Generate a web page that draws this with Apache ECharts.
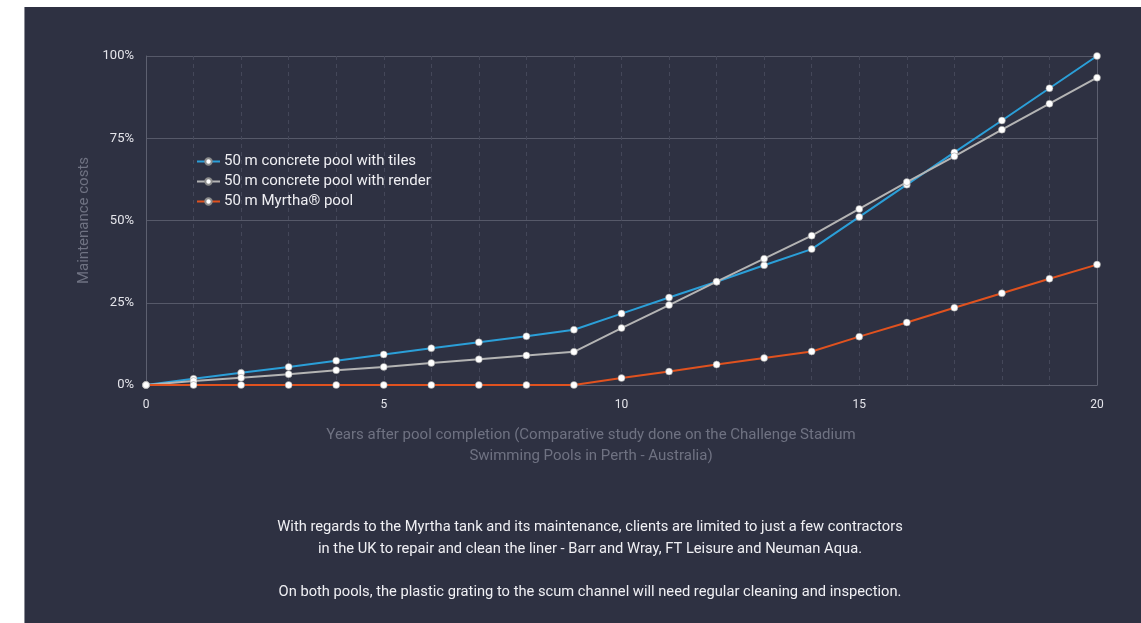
<!DOCTYPE html>
<html>
<head>
<meta charset="utf-8">
<script src="https://cdn.jsdelivr.net/npm/echarts@6/dist/echarts.min.js"></script>
<style>
  html, body { margin: 0; padding: 0; background: #ffffff; }
  #chart {
    position: absolute; left: 24px; top: 7px;
    width: 1117px; height: 616px;
    background: #2e3142;
    border-left: 1px solid #8a8c96;
    box-sizing: border-box;
  }
</style>
</head>
<body>
<div id="chart"></div>
<script>
var years = [0, 1, 2, 3, 4, 5, 6, 7, 8, 9, 10, 11, 12, 13, 14, 15, 16, 17, 18, 19, 20];
var tiles = [0, 1.9, 3.7, 5.5, 7.4, 9.3, 11.2, 13.0, 14.8, 16.8, 21.7, 26.6, 31.4, 36.4, 41.3, 51.1, 60.9, 70.7, 80.4, 90.2, 100];
var render = [0, 1.2, 2.2, 3.3, 4.5, 5.5, 6.7, 7.8, 9.0, 10.1, 17.3, 24.3, 31.4, 38.4, 45.4, 53.5, 61.7, 69.5, 77.6, 85.5, 93.4];
var myrtha = [0, 0, 0, 0, 0, 0, 0, 0, 0, 0, 2.1, 4.1, 6.2, 8.2, 10.2, 14.7, 19.0, 23.5, 27.9, 32.3, 36.6];
var seriesNames = ['50 m concrete pool with tiles', '50 m concrete pool with render', '50 m Myrtha\u00ae pool'];
var seriesColors = ['#2b9fd8', '#b4b4b4', '#e0521f'];
var noteLines = [
    'With regards to the Myrtha tank and its maintenance, clients are limited to just a few contractors',
    'in the UK to repair and clean the liner - Barr and Wray, FT Leisure and Neuman Aqua.',
    'On both pools, the plastic grating to the scum channel will need regular cleaning and inspection.'
];
var noteTops = [513, 535, 578];

function pairs(vals) {
    return years.map(function (y, i) { return [y, vals[i]]; });
}

function makeSeries(name, vals, color) {
    return {
        name: name,
        type: 'line',
        data: pairs(vals),
        symbol: 'circle',
        symbolSize: 7,
        color: color,
        lineStyle: { color: color, width: 2 },
        itemStyle: { color: '#ffffff', borderColor: '#8c8c8c', borderWidth: 0.5 },
        emphasis: { disabled: true },
        animation: false
    };
}

var font = 'Roboto, "Open Sans", sans-serif';

var option = {
    backgroundColor: 'transparent',
    textStyle: { fontFamily: font },
    grid: { left: 121, top: 49, right: 44, bottom: 238 },
    legend: {
        orient: 'vertical',
        left: 166,
        top: 142,
        itemWidth: 23,
        itemHeight: 8,
        itemGap: 5,
        data: seriesNames,
        textStyle: { color: '#eeeef2', fontSize: 15, fontFamily: font, padding: [0, 0, 0, -1] }
    },
    xAxis: {
        type: 'value',
        min: 0,
        max: 20,
        interval: 1,
        name: 'Years after pool completion (Comparative study done on the Challenge Stadium\nSwimming Pools in Perth - Australia)',
        nameLocation: 'middle',
        nameGap: 40,
        nameTextStyle: { color: '#6f7282', fontSize: 15, lineHeight: 21, fontFamily: font, padding: [0, 61, 0, 0] },
        axisLine: { lineStyle: { color: '#5d6070', width: 1 } },
        axisTick: { show: false },
        axisLabel: {
            color: '#e4e4ea',
            fontSize: 12,
            margin: 14,
            formatter: function (v) { return v % 5 === 0 ? String(v) : ''; }
        },
        splitLine: { show: true, lineStyle: { color: '#444759', type: [4, 4] } }
    },
    yAxis: [{
        type: 'value',
        min: 0,
        max: 100,
        interval: 25,
        name: 'Maintenance costs',
        nameLocation: 'middle',
        nameGap: 52,
        nameTextStyle: { color: '#6f7282', fontSize: 15, fontFamily: font },
        axisLine: { show: true, lineStyle: { color: '#5d6070', width: 1 } },
        axisTick: { show: false },
        axisLabel: { color: '#e4e4ea', fontSize: 13, margin: 12, formatter: '{value}%' },
        splitLine: { show: true, lineStyle: { color: '#565969', width: 1 } }
    }, {
        type: 'value',
        position: 'right',
        min: 0,
        max: 100,
        interval: 25,
        axisLine: { show: true, lineStyle: { color: '#5d6070', width: 1 } },
        axisTick: { show: false },
        axisLabel: { show: false },
        splitLine: { show: false }
    }],
    graphic: noteLines.map(function (t, i) {
        return {
            type: 'text',
            x: 565,
            y: noteTops[i],
            style: { text: t, fill: '#f0f0f4', font: '14.7px ' + font, align: 'center' }
        };
    }),
    series: [
        makeSeries(seriesNames[0], tiles, seriesColors[0]),
        makeSeries(seriesNames[1], render, seriesColors[1]),
        makeSeries(seriesNames[2], myrtha, seriesColors[2])
    ]
};

var myChart = echarts.init(document.getElementById('chart'));
myChart.setOption(option);
</script>
</body>
</html>
